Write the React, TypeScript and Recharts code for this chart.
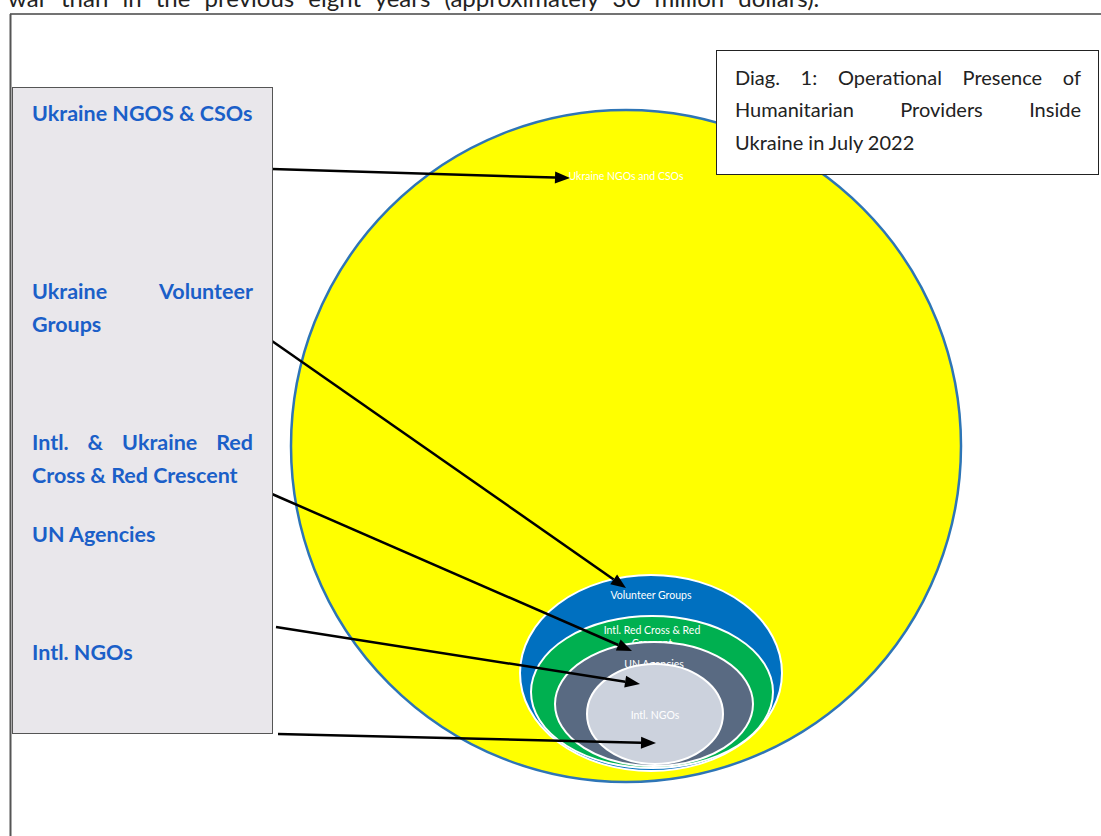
import React, { useLayoutEffect, useRef, useState } from "react";
import { ScatterChart, Scatter, XAxis, YAxis } from "recharts";

const W = 1101;
const H = 836;

// providers, outermost ring first
const providers = ["Ukraine NGOs and CSOs", "Volunteer Groups", "Intl. Red Cross & Red Crescent", "UN Agencies", "Intl. NGOs"];
const centerX = [626, 651, 652, 654, 655];
const centerY = [446, 673, 692, 704, 714];
const radiusX = [335, 131, 121, 99, 68];
const radiusY = [336, 98, 76, 62, 50];
const ringLabels = [["Ukraine NGOs and CSOs"], ["Volunteer Groups"], ["Intl. Red Cross & Red", "Crescent"], ["UN Agencies"], ["Intl. NGOs"]];

// legend box text (left panel)
const legendLines = [
  ["Ukraine NGOS & CSOs"],
  ["Ukraine Volunteer", "Groups"],
  ["Intl. & Ukraine Red", "Cross & Red Crescent"],
  ["UN Agencies"],
  ["Intl. NGOs"],
];

// arrows: legend entry -> ring
const arrowFromX = [272, 272, 272, 276, 278];
const arrowFromY = [169, 341, 494, 627, 734];
const arrowToX = [570, 626, 632, 640, 656];
const arrowToY = [178, 588, 651, 684, 743];

const titleLines = ["Diag. 1: Operational Presence of", "Humanitarian Providers Inside", "Ukraine in July 2022"];
const topText = "war than in the previous eight years (approximately 30 million dollars).";

// styling
const ringFill = ["#ffff00", "#0070c0", "#00b050", "#596a82", "#ccd2dd"];
const ringStroke = ["#2e75b6", "#ffffff", "#ffffff", "#ffffff", "#ffffff"];
const ringLabelTop = [67, 21, 15, 23, 52];
const legendBaseline = [121, 299, 450, 542, 660];
const legendJustify = [[false], [true, false], [true, false], [false], [false]];
const titleBaseline = [85, 117, 150];
const titleJustify = [true, true, false];

const ringData = providers.map((name, i) => ({
  name,
  x: centerX[i],
  y: centerY[i],
  rx: radiusX[i],
  ry: radiusY[i],
  lines: ringLabels[i],
  idx: i,
}));

const arrowData = arrowToX.map((x, i) => ({
  x,
  y: arrowToY[i],
  fx: arrowFromX[i],
  fy: arrowFromY[i],
}));

// pixels per data unit (plot area spans the whole chart, no margins)
const SX = W / W;
const SY = H / H;

const Ring = (props: any) => {
  const { cx, cy, payload } = props;
  const rx = payload.rx * SX;
  const ry = payload.ry * SY;
  const i = payload.idx;
  const top = cy - ry;
  return (
    <g>
      <ellipse cx={cx} cy={cy} rx={rx} ry={ry} fill={ringFill[i]} stroke={ringStroke[i]} strokeWidth={i === 0 ? 2.5 : 2} />
      {payload.lines.map((l: string, k: number) => (
        <text
          key={k}
          x={cx}
          y={top + ringLabelTop[i] + k * 13}
          textAnchor="middle"
          dominantBaseline="middle"
          fill="#ffffff"
          fontFamily="Lato, 'Open Sans', sans-serif"
          fontSize={10.5}
        >
          {l}
        </text>
      ))}
    </g>
  );
};

const Arrow = (props: any) => {
  const { cx, cy, payload } = props;
  const x2 = cx;
  const y2 = cy;
  const x1 = cx - (payload.x - payload.fx) * SX;
  const y1 = cy - (payload.y - payload.fy) * SY;
  const dx = x2 - x1;
  const dy = y2 - y1;
  const len = Math.sqrt(dx * dx + dy * dy);
  const ux = dx / len;
  const uy = dy / len;
  const hl = 15;
  const hw = 6;
  const bx = x2 - ux * hl;
  const by = y2 - uy * hl;
  return (
    <g>
      <line x1={x1} y1={y1} x2={bx} y2={by} stroke="#000" strokeWidth={2.5} />
      <polygon
        points={`${x2},${y2} ${bx - uy * hw},${by + ux * hw} ${bx + uy * hw},${by - ux * hw}`}
        fill="#000"
      />
    </g>
  );
};

function JustifiedLine({ text, x0, x1, y, justify, style }: any) {
  const words: string[] = justify ? text.split(" ") : [text];
  const refs = useRef<(SVGTextElement | null)[]>([]);
  const [xs, setXs] = useState<number[] | null>(null);
  useLayoutEffect(() => {
    if (!justify) return;
    const widths = refs.current.slice(0, words.length).map((r) => (r ? r.getComputedTextLength() : 0));
    const sum = widths.reduce((a, b) => a + b, 0);
    const gap = (x1 - x0 - sum) / Math.max(1, words.length - 1);
    let x = x0;
    const out: number[] = [];
    widths.forEach((w) => {
      out.push(x);
      x += w + gap;
    });
    setXs(out);
  }, [text, x0, x1, justify]);
  return (
    <g>
      {words.map((w, i) => (
        <text
          key={i}
          ref={(el) => {
            refs.current[i] = el;
          }}
          x={xs ? xs[i] : x0 + i * 70}
          y={y}
          style={style}
        >
          {w}
        </text>
      ))}
    </g>
  );
}

const legendStyle: React.CSSProperties = {
  fontFamily: "Lato, 'Open Sans', sans-serif",
  fontWeight: 700,
  fontSize: 21.5,
  fill: "#1b5fc8",
};
const titleStyle: React.CSSProperties = {
  fontFamily: "Lato, 'Open Sans', sans-serif",
  fontSize: 20,
  fill: "#222",
};

export default function App() {
  return (
    <div style={{ position: "absolute", left: 0, top: 0, width: W, height: H, background: "#fff", overflow: "hidden" }}>
      <ScatterChart width={W} height={H} margin={{ top: 0, right: 0, bottom: 0, left: 0 }}>
        <XAxis type="number" dataKey="x" domain={[0, W]} hide allowDataOverflow />
        <YAxis type="number" dataKey="y" domain={[0, H]} reversed hide allowDataOverflow />
        <Scatter data={ringData} shape={Ring} isAnimationActive={false} />
        <Scatter data={arrowData} shape={Arrow} isAnimationActive={false} />
      </ScatterChart>
      <svg width={W} height={H} style={{ position: "absolute", left: 0, top: 0, pointerEvents: "none" }}>
        <text x={8} y={7} style={{ ...titleStyle, fontSize: 24, wordSpacing: 8 }}>
          {topText}
        </text>
        <line x1={10} y1={14} x2={W} y2={14} stroke="#444" strokeWidth={1.5} />
        <line x1={10.5} y1={14} x2={10.5} y2={H} stroke="#555" strokeWidth={2} />

        <rect x={12.5} y={87.5} width={260} height={646} fill="#e9e7eb" stroke="#555" strokeWidth={1} />
        {legendLines.map((lines, i) =>
          lines.map((l, k) => (
            <JustifiedLine
              key={`${i}-${k}`}
              text={l}
              x0={32}
              x1={253}
              y={legendBaseline[i] + k * 33}
              justify={legendJustify[i][k]}
              style={legendStyle}
            />
          ))
        )}

        <rect x={716.5} y={50.5} width={382} height={124} fill="#fff" stroke="#222" strokeWidth={1} />
        {titleLines.map((l, i) => (
          <JustifiedLine key={i} text={l} x0={735} x1={1081} y={titleBaseline[i]} justify={titleJustify[i]} style={titleStyle} />
        ))}
      </svg>
    </div>
  );
}
